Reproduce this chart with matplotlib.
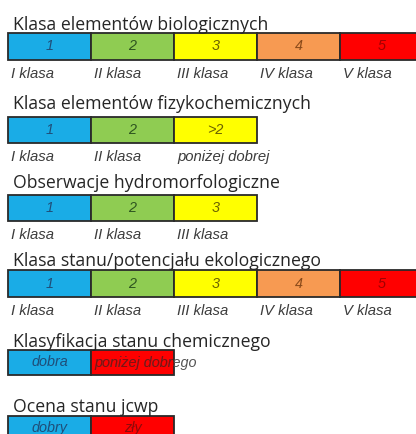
import numpy as np
import matplotlib.pyplot as plt
from matplotlib.transforms import Bbox, TransformedBbox

#######################################################
# data
bio_vals   = ['1', '2', '3', '4', '5']
bio_names  = ['I klasa', 'II klasa', 'III klasa', 'IV klasa', 'V klasa']
fiz_vals   = ['1', '2', '>2']
fiz_names  = ['I klasa', 'II klasa', 'poniżej dobrej']
hyd_vals   = ['1', '2', '3']
hyd_names  = ['I klasa', 'II klasa', 'III klasa']
eko_vals   = ['1', '2', '3', '4', '5']
eko_names  = ['I klasa', 'II klasa', 'III klasa', 'IV klasa', 'V klasa']
chem_vals  = ['dobra', 'poniżej dobrego']
jcwp_vals  = ['dobry', 'zły']

titles = ['Klasa elementów biologicznych',
          'Klasa elementów fizykochemicznych',
          'Obserwacje hydromorfologiczne',
          'Klasa stanu/potencjału ekologicznego',
          'Klasyfikacja stanu chemicznego',
          'Ocena stanu jcwp']

# fill / text colours per class 1..5 and for the 2-class rows
fill5 = ['#1aace6', '#8fcc52', '#ffff00', '#f79a52', '#ff0000']
text5 = ['#1f4e79', '#2e5520', '#6b6200', '#8a4a1a', '#a00000']
fill2 = ['#1aace6', '#ff0000']
text2 = ['#1f4e79', '#8b0a0a']
#######################################################

fig = plt.figure(figsize=(4.16, 4.34), dpi=100)
ax = fig.add_axes([0, 0, 1, 1])
ax.set_xlim(0, 416)
ax.set_ylim(434, 0)
ax.axis('off')

x0, cw = 8, 83
title_y = [30, 109, 188, 266, 347, 412]
bar_y   = [(33, 60), (117, 143), (195, 221), (270, 297), (350, 375), (416, 444)]
lab_y   = [74, 157, 235, 311]

rows = [(bio_vals, bio_names, fill5, text5),
        (fiz_vals, fiz_names, fill5[:3], text5[:3]),
        (hyd_vals, hyd_names, fill5[:3], text5[:3]),
        (eko_vals, eko_names, fill5, text5),
        (chem_vals, None, fill2, text2),
        (jcwp_vals, None, fill2, text2)]

for k, (vals, names, fills, tcols) in enumerate(rows):
    ax.text(13, title_y[k], titles[k], fontsize=12.7, family='Open Sans',
            color='#262626', va='baseline', ha='left')
    top, bot = bar_y[k]
    n = len(vals)
    lefts = x0 + cw*np.arange(n)
    bars = ax.barh([(top+bot)/2]*n, [cw]*n, left=lefts, height=bot-top,
                   color=fills, edgecolor='#2a2a2a', linewidth=1.3)
    for i, v in enumerate(vals):
        cx = lefts[i] + cw/2
        cy = (top+bot)/2 if k < 5 else 428
        if k == 4 and i == 1:
            # text runs past the red cell: grey outside, dark red inside
            cx = lefts[i] + 3
            ax.text(cx, cy, v, fontsize=10.4, style='italic', family='Liberation Sans',
                    color='#555555', ha='left', va='center')
            t2 = ax.text(cx, cy, v, fontsize=10.4, style='italic', family='Liberation Sans',
                         color=tcols[i], ha='left', va='center', zorder=4)
            t2.set_clip_box(TransformedBbox(Bbox.from_extents(lefts[i], top, lefts[i] + cw, bot),
                                            ax.transData))
            t2.set_clip_on(True)
            # hide grey part that lies over the red cell
            continue
        ax.text(cx, cy, v, fontsize=10.4, style='italic', family='Liberation Sans',
                color=tcols[i], ha='center', va='center')
    if names is not None:
        for i, nm in enumerate(names):
            ax.text(lefts[i] + 3, lab_y[k], nm, fontsize=10.7, style='italic',
                    family='Liberation Sans', color='#3c3c3c', ha='left', va='center')

plt.savefig('out.png', dpi=100)
